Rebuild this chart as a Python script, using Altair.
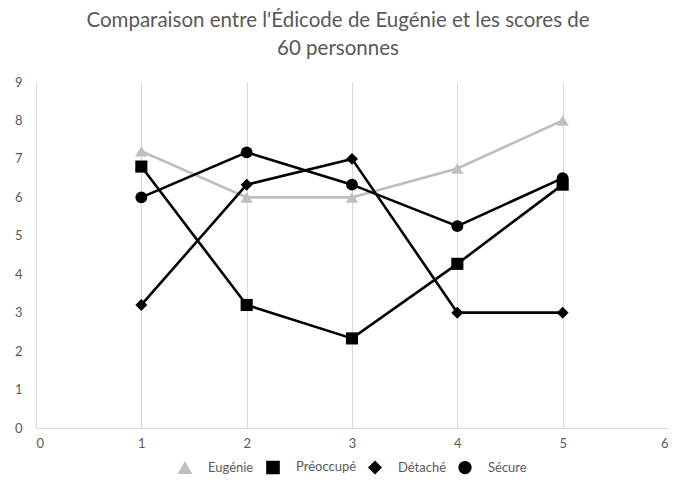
import altair as alt
import pandas as pd

x_vals = [1, 2, 3, 4, 5]
series_names = ["Eugénie", "Préoccupé", "Détaché", "Sécure"]
eugenie = [7.2, 6.0, 6.0, 6.75, 8.0]
preoccupe = [6.8, 3.2, 2.33, 4.27, 6.33]
detache = [3.2, 6.33, 7.0, 3.0, 3.0]
secure = [6.0, 7.17, 6.33, 5.25, 6.5]

rows = []
for i, (name, vals) in enumerate(zip(series_names, [eugenie, preoccupe, detache, secure])):
    for xv, v in zip(x_vals, vals):
        rows.append({"x": xv, "score": v, "serie": name, "ordre": i})
df = pd.DataFrame(rows)

colors = ["#bfbfbf", "#000000", "#000000", "#000000"]
shapes = ["triangle-up", "square", "diamond", "circle"]
sizes = [150, 140, 120, 170]

FONT = "Lato"
GREY = "#595959"

color_scale = alt.Scale(domain=series_names, range=colors)
shape_scale = alt.Scale(domain=series_names, range=shapes)

xenc = alt.X(
    "x:Q",
    scale=alt.Scale(domain=[0, 6], nice=False),
    axis=alt.Axis(values=[0, 1, 2, 3, 4, 5, 6], grid=True, gridColor="#d9d9d9",
                  domainColor="#d9d9d9", ticks=False, labelColor=GREY,
                  labelFontSize=13, labelPadding=9, title=None, format="d",
                  labelFont=FONT),
)
yenc = alt.Y(
    "score:Q",
    scale=alt.Scale(domain=[0, 9], nice=False),
    axis=alt.Axis(values=list(range(10)), grid=False, domainColor="#d9d9d9",
                  ticks=False, labelColor=GREY, labelFontSize=13, labelPadding=14,
                  title=None, format="d", labelFont=FONT),
)

lines = alt.Chart(df).mark_line(strokeWidth=2.6).encode(
    x=xenc, y=yenc,
    color=alt.Color("serie:N", scale=color_scale),
    detail="serie:N",
    order="x:Q",
)

leg = alt.Legend(
    title=None, orient="none", direction="horizontal",
    legendX=142, legendY=378,
    symbolSize=100, labelOffset=16,
    labelFont=FONT, labelFontSize=13, labelColor=GREY,
)

points = alt.Chart(df).mark_point(filled=True, opacity=1).encode(
    x=xenc, y=yenc,
    color=alt.Color("serie:N", scale=color_scale, legend=leg),
    shape=alt.Shape("serie:N", scale=shape_scale, legend=leg),
    size=alt.Size("serie:N", scale=alt.Scale(domain=series_names, range=sizes), legend=None),
)

chart = alt.layer(lines, points).properties(
    width=632, height=346,
    autosize=alt.AutoSizeParams(type="none"),
    padding={"left": 28, "top": 74, "right": 0, "bottom": 48},
    title=alt.TitleParams(
        text=["Comparaison entre l'Édicode de Eugénie et les scores de", "60 personnes"],
        font=FONT, fontSize=20.5, fontWeight="normal", color=GREY,
        anchor="middle", dx=-14, offset=17, lineHeight=28,
    ),
).configure_view(stroke=None).configure_legend(columnPadding=9)

chart.save("out.html", embed_options={"renderer": "svg", "actions": False})
